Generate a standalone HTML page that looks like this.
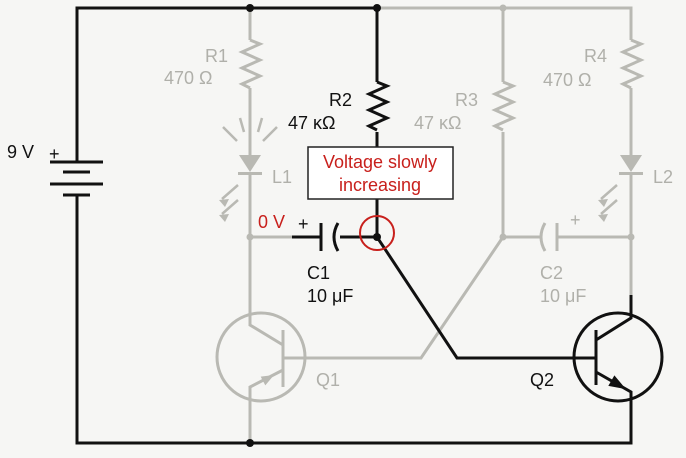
<!DOCTYPE html><html><head><style>body{margin:0;background:#f6f6f4}svg{display:block}text{font-family:"Liberation Sans",sans-serif;font-size:18px}</style></head><body>
<svg width="686" height="458" viewBox="0 0 686 458">
<g fill="none" stroke-width="3" stroke-linejoin="miter">
<g stroke="#b9b9b3">
<path d="M377 8H631V40M631 88V155M631 174V295"/>
<path d="M631 40l10 4-18 8 18 8-18 8 18 8-18 8 8 4"/>
<path d="M503 8V82M503 132V237H540M557 237H631"/>
<path d="M503 82l10 4-18 8 18 8-18 8 18 8-18 8 8 4"/>
<path d="M545 223q-8 14 0 28M557 223v28"/>
<path d="M250 8V40M250 88V155M250 174V237H292"/>
<path d="M250 40l10 4-18 8 18 8-18 8 18 8-18 8 8 4"/>
<path d="M250 237V325L283 345M283 330V387M283 358H421L503 237M283 370L250 387V443"/>
<circle cx="261" cy="357" r="44"/>
<path d="M223 127l14 14M277 127l-14 14M240 118l4 14M262 118l-4 14M238 185l-16 14M238 200l-16 14M617 185l-16 14M617 200l-16 14" stroke-width="2.5"/>
</g>
<g fill="#b9b9b3" stroke="none">
<path d="M239 155h22l-11 17z"/><rect x="238" y="172" width="24" height="3"/>
<path d="M620 155h22l-11 17z"/><rect x="619" y="172" width="24" height="3"/>
<path d="M219 200l10-1-4 8z"/><path d="M219 215l10-1-4 8z"/><path d="M598 200l10-1-4 8z"/><path d="M598 215l10-1-4 8z"/>
<path d="M274 375L265.3 385.4L260.7 376.6z"/>
</g>
<g stroke="#111">
<path d="M377 8H77V162M77 195V443H631V392L596 372M596 330V385M596 340L631 318V295"/>
<path d="M50 162h53M63 172h27M50 184h53M63 195h27"/>
<path d="M377 8V82M377 132V147M377 199V237M292 237H320M340 237H377L457 358H596"/>
<path d="M377 82l10 4-18 8 18 8-18 8 18 8-18 8 8 4"/>
<path d="M321 223v28M338 223q-8 14 0 28"/>
<circle cx="618" cy="357" r="44"/>
</g>
<path d="M624 388L609.5 385.3L614.5 376.7z" fill="#111" stroke="#111" stroke-width="1.5"/>
<circle cx="377" cy="233" r="17" stroke="#c8201c" stroke-width="2"/>
<rect x="308" y="147" width="145" height="52" fill="#fff" stroke="#222" stroke-width="1.5"/>
</g>
<g fill="#111"><circle cx="250" cy="8" r="4"/><circle cx="377" cy="8" r="4"/><circle cx="250" cy="443" r="4"/><circle cx="377" cy="237" r="4"/></g>
<g fill="#b9b9b3"><circle cx="503" cy="8" r="3.5"/><circle cx="250" cy="237" r="3.5"/><circle cx="503" cy="237" r="3.5"/><circle cx="631" cy="237" r="3.5"/></g>
<g fill="#b0b0aa">
<text x="205" y="62">R1</text><text x="164" y="84">470 Ω</text><text x="272" y="183">L1</text>
<text x="455" y="106">R3</text><text x="414" y="129">47 κΩ</text>
<text x="584" y="62">R4</text><text x="543" y="86">470 Ω</text><text x="653" y="183">L2</text>
<text x="540" y="279">C2</text><text x="540" y="302">10 μF</text><text x="316" y="386">Q1</text><text x="570" y="226">+</text>
</g>
<g fill="#111">
<text x="7" y="158">9 V</text><text x="49" y="160">+</text>
<text x="329" y="106">R2</text><text x="288" y="129">47 κΩ</text>
<text x="307" y="279">C1</text><text x="307" y="302">10 μF</text><text x="530" y="386">Q2</text><text x="298" y="230">+</text>
</g>
<g fill="#c8201c"><text x="258" y="228">0 V</text><text x="380" y="168" text-anchor="middle">Voltage slowly</text><text x="380" y="191" text-anchor="middle">increasing</text></g>
</svg></body></html>
